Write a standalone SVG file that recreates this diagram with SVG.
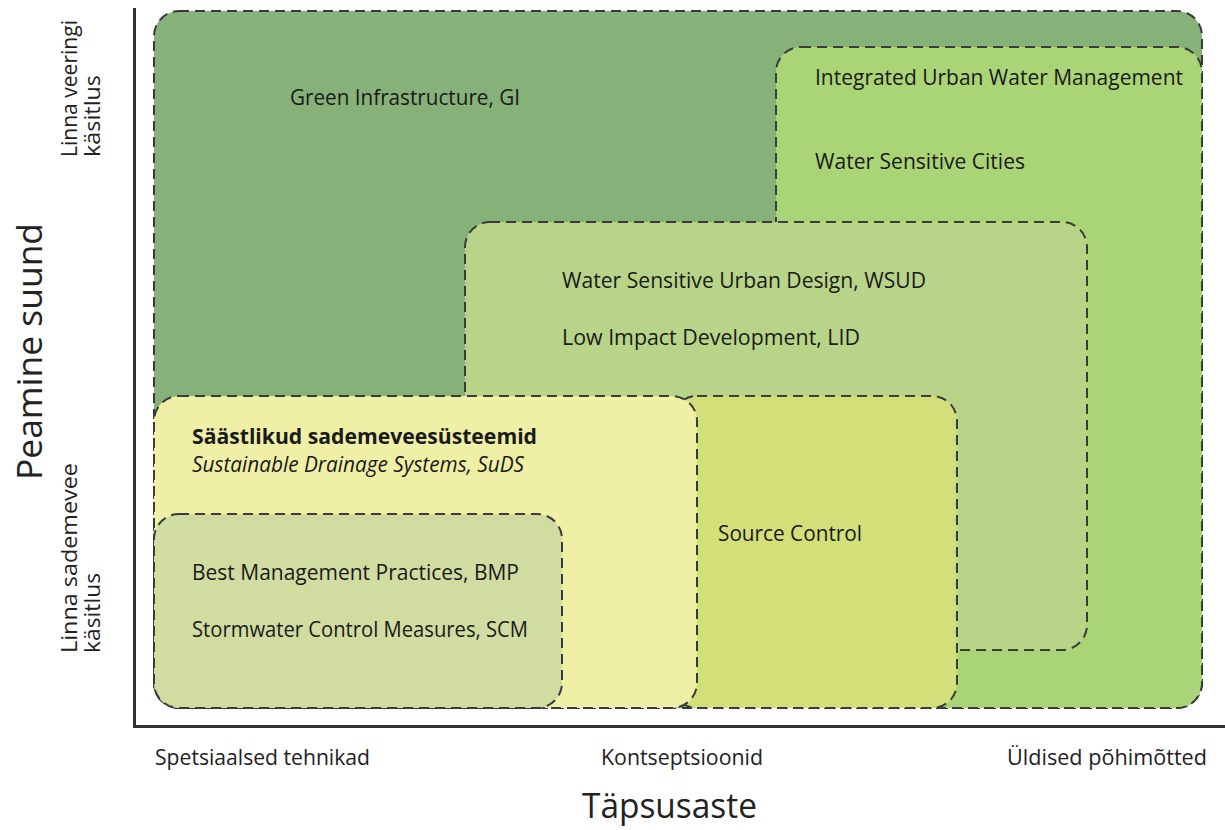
<svg xmlns="http://www.w3.org/2000/svg" width="1225" height="830" viewBox="0 0 1225 830">
  <style>
    .box { stroke: #3b3b3b; stroke-width: 2; stroke-dasharray: 10 6; }
    .lbl { font-family: "Open Sans", "Noto Sans", sans-serif; font-size: 21.5px; fill: #1a1a1a; }
    .ax { font-family: "Liberation Sans Narrow", "Open Sans", sans-serif; font-size: 21px; fill: #222; }
    .title { font-family: "Liberation Sans Narrow", "Open Sans", sans-serif; font-size: 35px; fill: #222; }
  </style>
  <rect width="1225" height="830" fill="#ffffff"/>

  <!-- Green Infrastructure -->
  <g id="gi">
    <rect class="box" x="154" y="11" width="1048" height="697" rx="25" fill="#86b178"/>
    <text class="lbl" x="290" y="105" textLength="230" lengthAdjust="spacingAndGlyphs">Green Infrastructure, GI</text>
  </g>

  <!-- Integrated Urban Water Management / Water Sensitive Cities -->
  <g id="iuwm">
    <rect class="box" x="776" y="47" width="426" height="661" rx="25" fill="#aad576"/>
    <text class="lbl" x="815" y="85" textLength="368" lengthAdjust="spacingAndGlyphs">Integrated Urban Water Management</text>
    <text class="lbl" x="815" y="169" textLength="210" lengthAdjust="spacingAndGlyphs">Water Sensitive Cities</text>
  </g>

  <!-- WSUD / LID -->
  <g id="wsud">
    <rect class="box" x="465" y="222" width="622" height="428" rx="25" fill="#b8d488"/>
    <text class="lbl" x="562" y="288" textLength="364" lengthAdjust="spacingAndGlyphs">Water Sensitive Urban Design, WSUD</text>
    <text class="lbl" x="562" y="345" textLength="298" lengthAdjust="spacingAndGlyphs">Low Impact Development, LID</text>
  </g>

  <!-- Source Control -->
  <g id="source-control">
    <rect class="box" x="672" y="396" width="285" height="312" rx="25" fill="#d3df79"/>
    <text class="lbl" x="718" y="541" textLength="144" lengthAdjust="spacingAndGlyphs">Source Control</text>
  </g>

  <!-- SuDS -->
  <g id="suds">
    <rect class="box" x="154" y="396" width="543" height="312" rx="25" fill="#eff0a5"/>
    <text class="lbl" x="192" y="444" font-weight="bold" textLength="345" lengthAdjust="spacingAndGlyphs">Säästlikud sademeveesüsteemid</text>
    <text class="lbl" x="192" y="472" font-style="italic" textLength="332" lengthAdjust="spacingAndGlyphs">Sustainable Drainage Systems, SuDS</text>
  </g>

  <!-- BMP / SCM -->
  <g id="bmp">
    <rect class="box" x="154" y="514" width="408" height="194" rx="25" fill="#d1dca0"/>
    <text class="lbl" x="192" y="580" textLength="327" lengthAdjust="spacingAndGlyphs">Best Management Practices, BMP</text>
    <text class="lbl" x="192" y="637" textLength="336" lengthAdjust="spacingAndGlyphs">Stormwater Control Measures, SCM</text>
  </g>

  <!-- axes -->
  <g id="connectors">
    <path d="M134.5 8 V726.5 H1225" fill="none" stroke="#333333" stroke-width="3"/>
  </g>

  <!-- vertical axis labels -->
  <g id="y-axis">
    <text class="title" transform="translate(42,480) rotate(-90)" textLength="257" lengthAdjust="spacingAndGlyphs">Peamine suund</text>
    <text class="ax" transform="translate(77,157) rotate(-90)" textLength="137" lengthAdjust="spacingAndGlyphs">Linna veeringi</text>
    <text class="ax" transform="translate(100,157) rotate(-90)" textLength="82" lengthAdjust="spacingAndGlyphs">käsitlus</text>
    <text class="ax" transform="translate(77,653) rotate(-90)" textLength="190" lengthAdjust="spacingAndGlyphs">Linna sademevee</text>
    <text class="ax" transform="translate(100,653) rotate(-90)" textLength="80" lengthAdjust="spacingAndGlyphs">käsitlus</text>
  </g>

  <!-- horizontal axis labels -->
  <g id="x-axis">
    <text class="ax" x="155" y="765" textLength="215" lengthAdjust="spacingAndGlyphs">Spetsiaalsed tehnikad</text>
    <text class="ax" x="601" y="765" textLength="162" lengthAdjust="spacingAndGlyphs">Kontseptsioonid</text>
    <text class="ax" x="1007" y="765" textLength="200" lengthAdjust="spacingAndGlyphs">Üldised põhimõtted</text>
    <text class="title" x="582" y="818" textLength="175" lengthAdjust="spacingAndGlyphs">Täpsusaste</text>
  </g>
</svg>
